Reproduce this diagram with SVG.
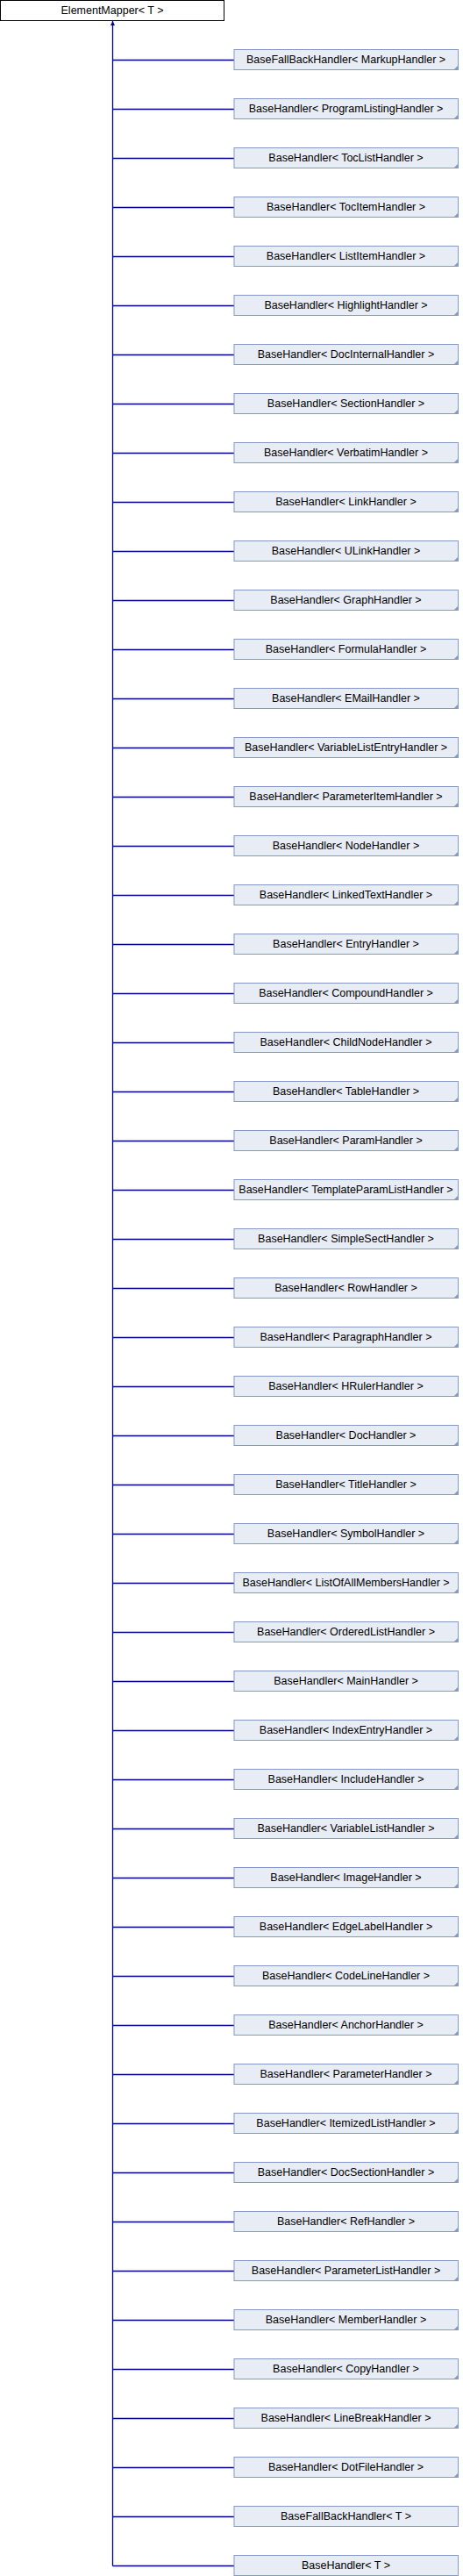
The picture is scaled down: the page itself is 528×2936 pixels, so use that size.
<svg xmlns="http://www.w3.org/2000/svg" width="528" height="2936" viewBox="0 0 528 2936">
<style>
.t{font-family:"Liberation Sans",Arial,sans-serif;font-size:12.5px;fill:#000;text-anchor:middle}
.root{fill:#fff;stroke:#000;stroke-width:1}
.c{fill:#e8ecf5;stroke:#8499c9;stroke-width:1}
.f{fill:#8499c9}
.e{stroke:#00008b;stroke-width:1.3;fill:none}
</style>
<defs>
<marker id="ah" viewBox="0 0 10 10" refX="10" refY="5" markerWidth="5" markerHeight="5" orient="auto" markerUnits="userSpaceOnUse">
<path d="M0,0 L10,5 L0,10 z" fill="#00008b"/>
</marker>
</defs>
<rect width="528" height="2936" fill="#fff"/>
<g id="edges">
<path class="e" d="M128.5,2924.5 V24" marker-end="url(#ah)"/>
<path class="e" d="M128.5,68.5 H267 M128.5,124.5 H267 M128.5,180.5 H267 M128.5,236.5 H267 M128.5,292.5 H267 M128.5,348.5 H267 M128.5,404.5 H267 M128.5,460.5 H267 M128.5,516.5 H267 M128.5,572.5 H267 M128.5,628.5 H267 M128.5,684.5 H267 M128.5,740.5 H267 M128.5,796.5 H267 M128.5,852.5 H267 M128.5,908.5 H267 M128.5,964.5 H267 M128.5,1020.5 H267 M128.5,1076.5 H267 M128.5,1132.5 H267 M128.5,1188.5 H267 M128.5,1244.5 H267 M128.5,1300.5 H267 M128.5,1356.5 H267 M128.5,1412.5 H267 M128.5,1468.5 H267 M128.5,1524.5 H267 M128.5,1580.5 H267 M128.5,1636.5 H267 M128.5,1692.5 H267 M128.5,1748.5 H267 M128.5,1804.5 H267 M128.5,1860.5 H267 M128.5,1916.5 H267 M128.5,1972.5 H267 M128.5,2028.5 H267 M128.5,2084.5 H267 M128.5,2140.5 H267 M128.5,2196.5 H267 M128.5,2252.5 H267 M128.5,2308.5 H267 M128.5,2364.5 H267 M128.5,2420.5 H267 M128.5,2476.5 H267 M128.5,2532.5 H267 M128.5,2588.5 H267 M128.5,2644.5 H267 M128.5,2700.5 H267 M128.5,2756.5 H267 M128.5,2812.5 H267 M128.5,2868.5 H267 M128.5,2924.5 H267"/>
</g>
<g id="n0"><rect class="root" x="0.5" y="0.5" width="255" height="23"/><text class="t" x="128" y="15.5">ElementMapper&lt; T &gt;</text></g>
<g id="n1" transform="translate(0,0)"><rect class="c" x="267" y="56.5" width="255.5" height="23"/><path class="f" d="M522.5,74.5 V79.5 H517.5 z"/><text class="t" x="394.5" y="71.5">BaseFallBackHandler&lt; MarkupHandler &gt;</text></g>
<g id="n2" transform="translate(0,56)"><rect class="c" x="267" y="56.5" width="255.5" height="23"/><path class="f" d="M522.5,74.5 V79.5 H517.5 z"/><text class="t" x="394.5" y="71.5">BaseHandler&lt; ProgramListingHandler &gt;</text></g>
<g id="n3" transform="translate(0,112)"><rect class="c" x="267" y="56.5" width="255.5" height="23"/><path class="f" d="M522.5,74.5 V79.5 H517.5 z"/><text class="t" x="394.5" y="71.5">BaseHandler&lt; TocListHandler &gt;</text></g>
<g id="n4" transform="translate(0,168)"><rect class="c" x="267" y="56.5" width="255.5" height="23"/><path class="f" d="M522.5,74.5 V79.5 H517.5 z"/><text class="t" x="394.5" y="71.5">BaseHandler&lt; TocItemHandler &gt;</text></g>
<g id="n5" transform="translate(0,224)"><rect class="c" x="267" y="56.5" width="255.5" height="23"/><path class="f" d="M522.5,74.5 V79.5 H517.5 z"/><text class="t" x="394.5" y="71.5">BaseHandler&lt; ListItemHandler &gt;</text></g>
<g id="n6" transform="translate(0,280)"><rect class="c" x="267" y="56.5" width="255.5" height="23"/><path class="f" d="M522.5,74.5 V79.5 H517.5 z"/><text class="t" x="394.5" y="71.5">BaseHandler&lt; HighlightHandler &gt;</text></g>
<g id="n7" transform="translate(0,336)"><rect class="c" x="267" y="56.5" width="255.5" height="23"/><path class="f" d="M522.5,74.5 V79.5 H517.5 z"/><text class="t" x="394.5" y="71.5">BaseHandler&lt; DocInternalHandler &gt;</text></g>
<g id="n8" transform="translate(0,392)"><rect class="c" x="267" y="56.5" width="255.5" height="23"/><path class="f" d="M522.5,74.5 V79.5 H517.5 z"/><text class="t" x="394.5" y="71.5">BaseHandler&lt; SectionHandler &gt;</text></g>
<g id="n9" transform="translate(0,448)"><rect class="c" x="267" y="56.5" width="255.5" height="23"/><path class="f" d="M522.5,74.5 V79.5 H517.5 z"/><text class="t" x="394.5" y="71.5">BaseHandler&lt; VerbatimHandler &gt;</text></g>
<g id="n10" transform="translate(0,504)"><rect class="c" x="267" y="56.5" width="255.5" height="23"/><path class="f" d="M522.5,74.5 V79.5 H517.5 z"/><text class="t" x="394.5" y="71.5">BaseHandler&lt; LinkHandler &gt;</text></g>
<g id="n11" transform="translate(0,560)"><rect class="c" x="267" y="56.5" width="255.5" height="23"/><path class="f" d="M522.5,74.5 V79.5 H517.5 z"/><text class="t" x="394.5" y="71.5">BaseHandler&lt; ULinkHandler &gt;</text></g>
<g id="n12" transform="translate(0,616)"><rect class="c" x="267" y="56.5" width="255.5" height="23"/><path class="f" d="M522.5,74.5 V79.5 H517.5 z"/><text class="t" x="394.5" y="71.5">BaseHandler&lt; GraphHandler &gt;</text></g>
<g id="n13" transform="translate(0,672)"><rect class="c" x="267" y="56.5" width="255.5" height="23"/><path class="f" d="M522.5,74.5 V79.5 H517.5 z"/><text class="t" x="394.5" y="71.5">BaseHandler&lt; FormulaHandler &gt;</text></g>
<g id="n14" transform="translate(0,728)"><rect class="c" x="267" y="56.5" width="255.5" height="23"/><path class="f" d="M522.5,74.5 V79.5 H517.5 z"/><text class="t" x="394.5" y="71.5">BaseHandler&lt; EMailHandler &gt;</text></g>
<g id="n15" transform="translate(0,784)"><rect class="c" x="267" y="56.5" width="255.5" height="23"/><path class="f" d="M522.5,74.5 V79.5 H517.5 z"/><text class="t" x="394.5" y="71.5">BaseHandler&lt; VariableListEntryHandler &gt;</text></g>
<g id="n16" transform="translate(0,840)"><rect class="c" x="267" y="56.5" width="255.5" height="23"/><path class="f" d="M522.5,74.5 V79.5 H517.5 z"/><text class="t" x="394.5" y="71.5">BaseHandler&lt; ParameterItemHandler &gt;</text></g>
<g id="n17" transform="translate(0,896)"><rect class="c" x="267" y="56.5" width="255.5" height="23"/><path class="f" d="M522.5,74.5 V79.5 H517.5 z"/><text class="t" x="394.5" y="71.5">BaseHandler&lt; NodeHandler &gt;</text></g>
<g id="n18" transform="translate(0,952)"><rect class="c" x="267" y="56.5" width="255.5" height="23"/><path class="f" d="M522.5,74.5 V79.5 H517.5 z"/><text class="t" x="394.5" y="71.5">BaseHandler&lt; LinkedTextHandler &gt;</text></g>
<g id="n19" transform="translate(0,1008)"><rect class="c" x="267" y="56.5" width="255.5" height="23"/><path class="f" d="M522.5,74.5 V79.5 H517.5 z"/><text class="t" x="394.5" y="71.5">BaseHandler&lt; EntryHandler &gt;</text></g>
<g id="n20" transform="translate(0,1064)"><rect class="c" x="267" y="56.5" width="255.5" height="23"/><path class="f" d="M522.5,74.5 V79.5 H517.5 z"/><text class="t" x="394.5" y="71.5">BaseHandler&lt; CompoundHandler &gt;</text></g>
<g id="n21" transform="translate(0,1120)"><rect class="c" x="267" y="56.5" width="255.5" height="23"/><path class="f" d="M522.5,74.5 V79.5 H517.5 z"/><text class="t" x="394.5" y="71.5">BaseHandler&lt; ChildNodeHandler &gt;</text></g>
<g id="n22" transform="translate(0,1176)"><rect class="c" x="267" y="56.5" width="255.5" height="23"/><path class="f" d="M522.5,74.5 V79.5 H517.5 z"/><text class="t" x="394.5" y="71.5">BaseHandler&lt; TableHandler &gt;</text></g>
<g id="n23" transform="translate(0,1232)"><rect class="c" x="267" y="56.5" width="255.5" height="23"/><path class="f" d="M522.5,74.5 V79.5 H517.5 z"/><text class="t" x="394.5" y="71.5">BaseHandler&lt; ParamHandler &gt;</text></g>
<g id="n24" transform="translate(0,1288)"><rect class="c" x="267" y="56.5" width="255.5" height="23"/><path class="f" d="M522.5,74.5 V79.5 H517.5 z"/><text class="t" x="394.5" y="71.5">BaseHandler&lt; TemplateParamListHandler &gt;</text></g>
<g id="n25" transform="translate(0,1344)"><rect class="c" x="267" y="56.5" width="255.5" height="23"/><path class="f" d="M522.5,74.5 V79.5 H517.5 z"/><text class="t" x="394.5" y="71.5">BaseHandler&lt; SimpleSectHandler &gt;</text></g>
<g id="n26" transform="translate(0,1400)"><rect class="c" x="267" y="56.5" width="255.5" height="23"/><path class="f" d="M522.5,74.5 V79.5 H517.5 z"/><text class="t" x="394.5" y="71.5">BaseHandler&lt; RowHandler &gt;</text></g>
<g id="n27" transform="translate(0,1456)"><rect class="c" x="267" y="56.5" width="255.5" height="23"/><path class="f" d="M522.5,74.5 V79.5 H517.5 z"/><text class="t" x="394.5" y="71.5">BaseHandler&lt; ParagraphHandler &gt;</text></g>
<g id="n28" transform="translate(0,1512)"><rect class="c" x="267" y="56.5" width="255.5" height="23"/><path class="f" d="M522.5,74.5 V79.5 H517.5 z"/><text class="t" x="394.5" y="71.5">BaseHandler&lt; HRulerHandler &gt;</text></g>
<g id="n29" transform="translate(0,1568)"><rect class="c" x="267" y="56.5" width="255.5" height="23"/><path class="f" d="M522.5,74.5 V79.5 H517.5 z"/><text class="t" x="394.5" y="71.5">BaseHandler&lt; DocHandler &gt;</text></g>
<g id="n30" transform="translate(0,1624)"><rect class="c" x="267" y="56.5" width="255.5" height="23"/><path class="f" d="M522.5,74.5 V79.5 H517.5 z"/><text class="t" x="394.5" y="71.5">BaseHandler&lt; TitleHandler &gt;</text></g>
<g id="n31" transform="translate(0,1680)"><rect class="c" x="267" y="56.5" width="255.5" height="23"/><path class="f" d="M522.5,74.5 V79.5 H517.5 z"/><text class="t" x="394.5" y="71.5">BaseHandler&lt; SymbolHandler &gt;</text></g>
<g id="n32" transform="translate(0,1736)"><rect class="c" x="267" y="56.5" width="255.5" height="23"/><path class="f" d="M522.5,74.5 V79.5 H517.5 z"/><text class="t" x="394.5" y="71.5">BaseHandler&lt; ListOfAllMembersHandler &gt;</text></g>
<g id="n33" transform="translate(0,1792)"><rect class="c" x="267" y="56.5" width="255.5" height="23"/><path class="f" d="M522.5,74.5 V79.5 H517.5 z"/><text class="t" x="394.5" y="71.5">BaseHandler&lt; OrderedListHandler &gt;</text></g>
<g id="n34" transform="translate(0,1848)"><rect class="c" x="267" y="56.5" width="255.5" height="23"/><path class="f" d="M522.5,74.5 V79.5 H517.5 z"/><text class="t" x="394.5" y="71.5">BaseHandler&lt; MainHandler &gt;</text></g>
<g id="n35" transform="translate(0,1904)"><rect class="c" x="267" y="56.5" width="255.5" height="23"/><path class="f" d="M522.5,74.5 V79.5 H517.5 z"/><text class="t" x="394.5" y="71.5">BaseHandler&lt; IndexEntryHandler &gt;</text></g>
<g id="n36" transform="translate(0,1960)"><rect class="c" x="267" y="56.5" width="255.5" height="23"/><path class="f" d="M522.5,74.5 V79.5 H517.5 z"/><text class="t" x="394.5" y="71.5">BaseHandler&lt; IncludeHandler &gt;</text></g>
<g id="n37" transform="translate(0,2016)"><rect class="c" x="267" y="56.5" width="255.5" height="23"/><path class="f" d="M522.5,74.5 V79.5 H517.5 z"/><text class="t" x="394.5" y="71.5">BaseHandler&lt; VariableListHandler &gt;</text></g>
<g id="n38" transform="translate(0,2072)"><rect class="c" x="267" y="56.5" width="255.5" height="23"/><path class="f" d="M522.5,74.5 V79.5 H517.5 z"/><text class="t" x="394.5" y="71.5">BaseHandler&lt; ImageHandler &gt;</text></g>
<g id="n39" transform="translate(0,2128)"><rect class="c" x="267" y="56.5" width="255.5" height="23"/><path class="f" d="M522.5,74.5 V79.5 H517.5 z"/><text class="t" x="394.5" y="71.5">BaseHandler&lt; EdgeLabelHandler &gt;</text></g>
<g id="n40" transform="translate(0,2184)"><rect class="c" x="267" y="56.5" width="255.5" height="23"/><path class="f" d="M522.5,74.5 V79.5 H517.5 z"/><text class="t" x="394.5" y="71.5">BaseHandler&lt; CodeLineHandler &gt;</text></g>
<g id="n41" transform="translate(0,2240)"><rect class="c" x="267" y="56.5" width="255.5" height="23"/><path class="f" d="M522.5,74.5 V79.5 H517.5 z"/><text class="t" x="394.5" y="71.5">BaseHandler&lt; AnchorHandler &gt;</text></g>
<g id="n42" transform="translate(0,2296)"><rect class="c" x="267" y="56.5" width="255.5" height="23"/><path class="f" d="M522.5,74.5 V79.5 H517.5 z"/><text class="t" x="394.5" y="71.5">BaseHandler&lt; ParameterHandler &gt;</text></g>
<g id="n43" transform="translate(0,2352)"><rect class="c" x="267" y="56.5" width="255.5" height="23"/><path class="f" d="M522.5,74.5 V79.5 H517.5 z"/><text class="t" x="394.5" y="71.5">BaseHandler&lt; ItemizedListHandler &gt;</text></g>
<g id="n44" transform="translate(0,2408)"><rect class="c" x="267" y="56.5" width="255.5" height="23"/><path class="f" d="M522.5,74.5 V79.5 H517.5 z"/><text class="t" x="394.5" y="71.5">BaseHandler&lt; DocSectionHandler &gt;</text></g>
<g id="n45" transform="translate(0,2464)"><rect class="c" x="267" y="56.5" width="255.5" height="23"/><path class="f" d="M522.5,74.5 V79.5 H517.5 z"/><text class="t" x="394.5" y="71.5">BaseHandler&lt; RefHandler &gt;</text></g>
<g id="n46" transform="translate(0,2520)"><rect class="c" x="267" y="56.5" width="255.5" height="23"/><path class="f" d="M522.5,74.5 V79.5 H517.5 z"/><text class="t" x="394.5" y="71.5">BaseHandler&lt; ParameterListHandler &gt;</text></g>
<g id="n47" transform="translate(0,2576)"><rect class="c" x="267" y="56.5" width="255.5" height="23"/><path class="f" d="M522.5,74.5 V79.5 H517.5 z"/><text class="t" x="394.5" y="71.5">BaseHandler&lt; MemberHandler &gt;</text></g>
<g id="n48" transform="translate(0,2632)"><rect class="c" x="267" y="56.5" width="255.5" height="23"/><path class="f" d="M522.5,74.5 V79.5 H517.5 z"/><text class="t" x="394.5" y="71.5">BaseHandler&lt; CopyHandler &gt;</text></g>
<g id="n49" transform="translate(0,2688)"><rect class="c" x="267" y="56.5" width="255.5" height="23"/><path class="f" d="M522.5,74.5 V79.5 H517.5 z"/><text class="t" x="394.5" y="71.5">BaseHandler&lt; LineBreakHandler &gt;</text></g>
<g id="n50" transform="translate(0,2744)"><rect class="c" x="267" y="56.5" width="255.5" height="23"/><path class="f" d="M522.5,74.5 V79.5 H517.5 z"/><text class="t" x="394.5" y="71.5">BaseHandler&lt; DotFileHandler &gt;</text></g>
<g id="n51" transform="translate(0,2800)"><rect class="c" x="267" y="56.5" width="255.5" height="23"/><text class="t" x="394.5" y="71.5">BaseFallBackHandler&lt; T &gt;</text></g>
<g id="n52" transform="translate(0,2856)"><rect class="c" x="267" y="56.5" width="255.5" height="23"/><text class="t" x="394.5" y="71.5">BaseHandler&lt; T &gt;</text></g>
</svg>
